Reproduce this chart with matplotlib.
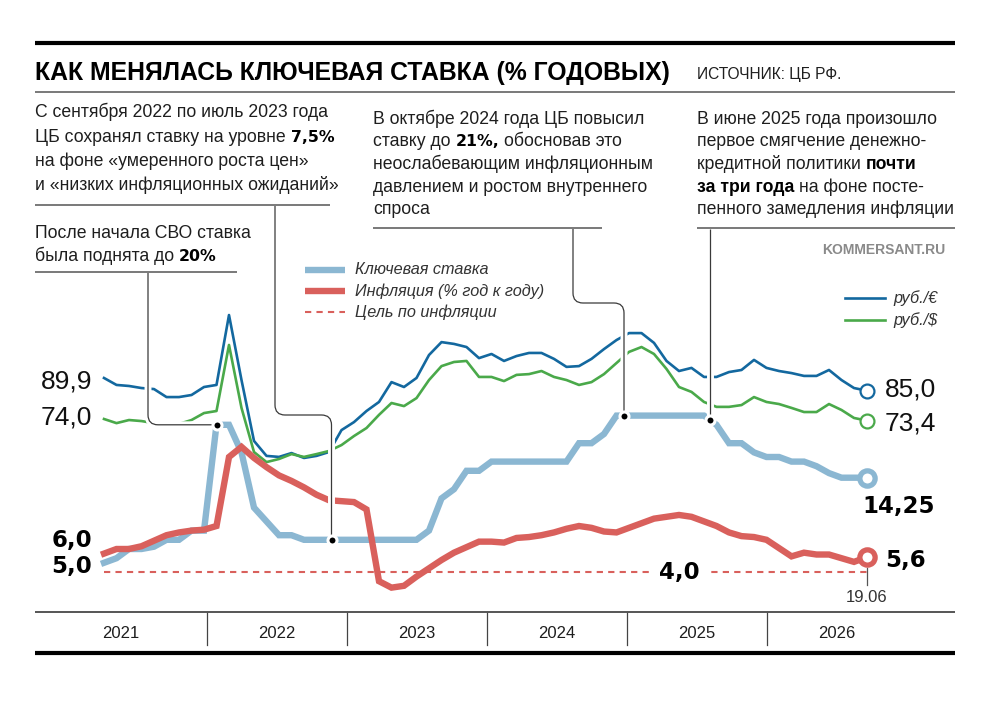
import numpy as np
import pandas as pd
import matplotlib
matplotlib.use('Agg')
import matplotlib.pyplot as plt
from matplotlib.path import Path
from matplotlib.patches import PathPatch
import matplotlib.patheffects as pe

plt.rcParams['font.family'] = ['Liberation Sans', 'DejaVu Sans']

# monthly data, May 2021 - June 2026
dates = pd.date_range('2021-05-01', '2026-06-01', freq='MS')

key_rate = [5.0, 5.5, 6.5, 6.5, 6.75, 7.5, 7.5, 8.5, 8.5, 20, 20, 17, 11, 9.5, 8, 8,
            7.5, 7.5, 7.5, 7.5, 7.5, 7.5, 7.5, 7.5, 7.5, 7.5, 8.5, 12, 13, 15, 15,
            16, 16, 16, 16, 16, 16, 16, 18, 18, 19, 21, 21, 21, 21, 21, 21, 21, 21,
            20, 18, 18, 17, 16.5, 16.5, 16, 16, 15.5, 14.75, 14.25, 14.25, 14.25]
inflation = [6.0, 6.5, 6.5, 6.8, 7.4, 8.0, 8.3, 8.5, 8.6, 9.0, 16.5, 17.6, 16.4, 15.4,
             14.5, 13.9, 13.2, 12.4, 11.8, 11.7, 11.6, 10.8, 3.0, 2.3, 2.5, 3.5, 4.4,
             5.3, 6.1, 6.7, 7.3, 7.3, 7.2, 7.7, 7.8, 8.0, 8.3, 8.7, 9.0, 8.8, 8.4,
             8.3, 8.8, 9.3, 9.8, 10.0, 10.2, 10.0, 9.5, 9.0, 8.3, 7.9, 7.8, 7.5, 6.6,
             5.7, 6.1, 5.9, 5.9, 5.5, 5.1, 5.6]
eur = [89.9, 87.2, 86.8, 86.0, 85.6, 82.5, 82.5, 83.3, 86.4, 87.2, 114.3, 89.1, 65.5,
       59.7, 59.3, 60.8, 58.9, 59.7, 61.2, 69.7, 72.8, 77.1, 80.6, 88.3, 86.4, 89.9,
       98.8, 103.8, 103.1, 101.9, 97.6, 99.2, 96.5, 98.4, 99.6, 99.6, 97.3, 94.2,
       94.5, 97.3, 101.1, 104.6, 107.3, 107.3, 103.5, 96.5, 92.6, 93.8, 90.3, 90.3,
       92.2, 93.0, 96.9, 93.8, 92.6, 91.8, 90.7, 90.7, 93.0, 89.1, 86.0, 85.0]
usd = [74.0, 72.4, 73.6, 73.2, 72.4, 71.7, 72.1, 73.6, 76.3, 77.1, 102.7, 78.3, 61.2,
       57.3, 58.5, 60.4, 59.3, 60.4, 61.6, 63.9, 67.4, 70.5, 75.6, 80.2, 79.0, 82.1,
       89.1, 94.5, 96.1, 96.5, 90.3, 90.3, 88.7, 91.1, 91.4, 92.6, 90.3, 89.1, 87.2,
       88.3, 91.4, 95.7, 100.0, 101.9, 99.2, 93.4, 86.4, 84.5, 80.6, 78.7, 78.7, 79.4,
       82.5, 80.6, 79.8, 78.3, 76.7, 76.7, 79.8, 77.5, 74.4, 73.4]
target = 4.0
years = ['2021', '2022', '2023', '2024', '2025', '2026']

C_KEY = '#8bb7d2'
C_INF = '#d9605c'
C_EUR = '#13689f'
C_USD = '#4aa94a'
TXT = '#1e1e1e'

W, H = 1000, 702
fig = plt.figure(figsize=(W / 100, H / 100), dpi=100)

x = np.arange(len(dates))

# plot area (pixel layout of the original)
rect = [35 / W, (H - 612) / H, 920 / W, 520 / H]
ax_cur = fig.add_axes(rect)
ax = fig.add_axes(rect)
for a in (ax_cur, ax):
    a.axis('off')
    a.set_xlim((35 - 104) / 12.5, (955 - 104) / 12.5)
ax.set_ylim(4 + (572 - 612) / 9.2, 4 + (572 - 92) / 9.2)
ax_cur.set_ylim(74 + (419 - 612) / 2.58, 74 + (419 - 92) / 2.58)

ax_cur.plot(x, eur, color=C_EUR, lw=1.9, solid_joinstyle='round', zorder=2)
ax_cur.plot(x, usd, color=C_USD, lw=1.9, solid_joinstyle='round', zorder=2)
ax_cur.plot(x[-1], eur[-1], 'o', ms=10, mfc='white', mec=C_EUR, mew=1.6, zorder=5)
ax_cur.plot(x[-1], usd[-1], 'o', ms=10, mfc='white', mec=C_USD, mew=1.6, zorder=5)

ax.plot(x, [target] * len(x), color=C_INF, lw=1.5, dashes=(3, 2.5), zorder=1)
ax.plot(x, key_rate, color=C_KEY, lw=4.6, solid_joinstyle='miter', zorder=3)
ax.plot(x, inflation, color=C_INF, lw=4.6, solid_joinstyle='miter', zorder=4)
ax.plot(x[-1], key_rate[-1], 'o', ms=11, mfc='white', mec=C_KEY, mew=3.8, zorder=6)
ax.plot(x[-1], inflation[-1], 'o', ms=11, mfc='white', mec=C_INF, mew=3.8, zorder=6)
ax.text(46, target, '4,0', ha='center', va='center', family='DejaVu Sans',
        weight='bold', fontsize=16.5, color='black', zorder=7,
        bbox=dict(boxstyle='square,pad=0.35', fc='white', ec='none'))

# overlay in pixel coordinates
ov = fig.add_axes([0, 0, 1, 1])
ov.set_xlim(0, W)
ov.set_ylim(H, 0)
ov.axis('off')
renderer = fig.canvas.get_renderer()


def to_px(a, xv, yv):
    d = a.transData.transform((xv, yv))
    return d[0], H - d[1]


def rule(x0, x1, y, lw=1.1, c='#555555'):
    ov.plot([x0, x1], [y, y], color=c, lw=lw, solid_capstyle='butt', zorder=11)


def leader(points, r=10):
    verts = [points[0]]
    codes = [Path.MOVETO]
    for i in range(1, len(points) - 1):
        p0, c, p1 = (np.array(points[i - 1], float), np.array(points[i], float),
                     np.array(points[i + 1], float))
        d0 = (c - p0) / np.linalg.norm(c - p0)
        d1 = (p1 - c) / np.linalg.norm(p1 - c)
        verts += [c - d0 * r, c, c + d1 * r]
        codes += [Path.LINETO, Path.CURVE3, Path.CURVE3]
    verts.append(points[-1])
    codes.append(Path.LINETO)
    ov.add_patch(PathPatch(Path(verts, codes), fill=False, ec='#3a3a3a', lw=0.9,
                           zorder=10, path_effects=[pe.Stroke(linewidth=5, foreground='white'),
                                                    pe.Normal()]))


STY = {
    'r': dict(fontsize=12.7, color=TXT),
    'b': dict(fontsize=11.3, color='black', family='DejaVu Sans', weight='bold'),
    'w': dict(fontsize=12.7, color='black', weight='bold'),
}


def rich(x0, y, parts):
    xx = x0
    for txt, s in parts:
        t = ov.text(xx, y, txt, ha='left', va='baseline', zorder=12, **STY[s])
        xx += t.get_window_extent(renderer).width + 5


# top
rule(35, 955, 43, lw=3.0, c='black')
ov.text(35, 80, 'КАК МЕНЯЛАСЬ КЛЮЧЕВАЯ СТАВКА (% ГОДОВЫХ)', ha='left', va='baseline',
        fontsize=17.8, weight='bold', color='black')
ov.text(697, 79, 'ИСТОЧНИК: ЦБ РФ.', ha='left', va='baseline', fontsize=11.2, color=TXT)
rule(35, 955, 92)

# annotation blocks
blockA = [[('С сентября 2022 по июль 2023 года', 'r')],
          [('ЦБ сохранял ставку на уровне', 'r'), ('7,5%', 'b')],
          [('на фоне «умеренного роста цен»', 'r')],
          [('и «низких инфляционных ожиданий»', 'r')]]
for i, line in enumerate(blockA):
    rich(35, 117 + i * 24.5, line)
rule(35, 330, 205)

blockB = [[('После начала СВО ставка', 'r')],
          [('была поднята до', 'r'), ('20%', 'b')]]
for i, line in enumerate(blockB):
    rich(35, 238 + i * 23, line)
rule(35, 237, 272)

blockC = [[('В октябре 2024 года ЦБ повысил', 'r')],
          [('ставку до', 'r'), ('21%,', 'b'), ('обосновав это', 'r')],
          [('неослабевающим инфляционным', 'r')],
          [('давлением и ростом внутреннего', 'r')],
          [('спроса', 'r')]]
for i, line in enumerate(blockC):
    rich(373, 124 + i * 22.5, line)
rule(373, 602, 228)

blockD = [[('В июне 2025 года произошло', 'r')],
          [('первое смягчение денежно-', 'r')],
          [('кредитной политики', 'r'), ('почти', 'w')],
          [('за три года', 'w'), ('на фоне посте-', 'r')],
          [('пенного замедления инфляции', 'r')]]
for i, line in enumerate(blockD):
    rich(697, 124 + i * 22.5, line)
rule(697, 955, 228)

ov.text(945, 250, 'KOMMERSANT.RU', ha='right', va='center', fontsize=10, weight='bold',
        color='#8a8a8a')

# leaders with dots on the key rate line
d1 = to_px(ax, 9, 20)
d2 = to_px(ax, 18.2, 7.5)
d3 = to_px(ax, 41.6, 21)
d4 = to_px(ax, 48.5, 20.5)
leader([(148, 273), (148, d1[1]), d1])
leader([(275, 206), (275, 415), (d2[0], 415), d2])
leader([(573, 229), (573, 303), (d3[0], 303), d3])
leader([(d4[0], 229), d4])
for d in (d1, d2, d3, d4):
    ov.plot(*d, 'o', ms=6.5, mfc='black', mec='white', mew=2.2, zorder=13)

# legends
lg = dict(ha='left', va='center', fontsize=11.7, style='italic', color='#333333')
ov.plot([305, 345], [270, 270], color=C_KEY, lw=4.6, solid_capstyle='butt')
ov.plot([305, 345], [291, 291], color=C_INF, lw=4.6, solid_capstyle='butt')
ov.plot([305, 345], [312, 312], color=C_INF, lw=1.5, dashes=(3, 2.5))
for yy, lab in zip([270, 291, 312], ['Ключевая ставка', 'Инфляция (% год к году)',
                                     'Цель по инфляции']):
    ov.text(355, yy, lab, **lg)
ov.plot([845, 885], [298, 298], color=C_EUR, lw=1.9)
ov.plot([845, 885], [320, 320], color=C_USD, lw=1.9)
ov.text(893, 298, 'руб./€', **lg)
ov.text(893, 320, 'руб./$', **lg)

# value labels
num = dict(fontsize=19, color='#111111', va='center')
bnum = dict(fontsize=16.5, color='black', va='center', family='DejaVu Sans', weight='bold')
ov.text(92, 381, '89,9', ha='right', **num)
ov.text(92, 418, '74,0', ha='right', **num)
ov.text(92, 540, '6,0', ha='right', **bnum)
ov.text(92, 566, '5,0', ha='right', **bnum)
ov.text(885, 389, '85,0', ha='left', **num)
ov.text(885, 424, '73,4', ha='left', **num)
ov.text(862, 507, '14,25', ha='left', **bnum)
ov.text(885, 561, '5,6', ha='left', **bnum)
e = to_px(ax, x[-1], inflation[-1])
ov.plot([e[0], e[0]], [e[1] + 11, e[1] + 28], color='#555555', lw=0.9)
ov.text(e[0], 598, '19.06', ha='center', va='center', fontsize=12, color='#333333')

# year band
edges = [35, 207, 347, 487, 627, 767, 907]
rule(35, 955, 612, lw=1.4)
for xe in edges[1:-1]:
    ov.plot([xe, xe], [612, 645], color='#444444', lw=0.9)
for i, yr in enumerate(years):
    ov.text((edges[i] + edges[i + 1]) / 2, 633, yr, ha='center', va='center',
            fontsize=12, color=TXT)
rule(35, 955, 653, lw=3.0, c='black')

fig.savefig('out.png', dpi=100)
